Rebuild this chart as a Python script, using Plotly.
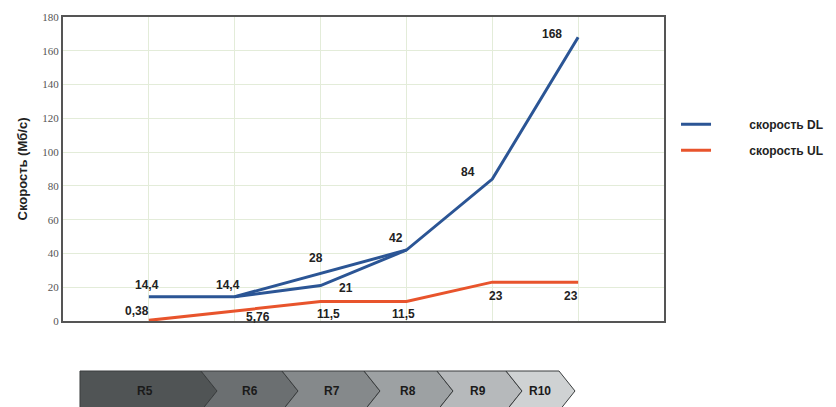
import plotly.graph_objects as go

# ---------------- data ----------------
stages = ["R5", "R6", "R7", "R8", "R9", "R10"]
dl_speed = [14.4, 14.4, 21, 42, 84, 168]
dl_alt_stages = ["R6", "R7", "R8"]
dl_alt_speed = [14.4, 28, 42]
ul_speed = [0.38, 5.76, 11.5, 11.5, 23, 23]
y_ticks = [0, 20, 40, 60, 80, 100, 120, 140, 160, 180]

# ---------------- styling ----------------
W, H = 836, 407
L, R, T, B = 63, 664, 17, 321
DL_COLOR = "#2b5595"
UL_COLOR = "#e8542c"
LABEL_FONT = dict(family="Liberation Sans, Arial", size=12, color="#222222")
PAD = "&nbsp;" * 10

idx = {s: i for i, s in enumerate(stages)}

fig = go.Figure()
fig.add_trace(go.Scatter(
    x=[idx[s] for s in stages], y=dl_speed, mode="lines", name="<b>" + PAD + "скорость DL</b>",
    line=dict(color=DL_COLOR, width=3), legendgroup="dl"))
fig.add_trace(go.Scatter(
    x=[idx[s] for s in dl_alt_stages], y=dl_alt_speed, mode="lines",
    line=dict(color=DL_COLOR, width=3), legendgroup="dl", showlegend=False))
fig.add_trace(go.Scatter(
    x=[idx[s] for s in stages], y=ul_speed, mode="lines", name="<b>" + PAD + "скорость UL</b>",
    line=dict(color=UL_COLOR, width=3), legendgroup="ul"))

def fmt(v):
    return str(v).replace(".", ",")

# value label offsets (px)
dl_off = [(-2, 12), (-7, 12), (25, -2), (-10, 12), (-24, 7), (-26, 3)]
dl_alt_off = [None, (-5, 16), None]
ul_off = [(-12, 9), (23, -6), (8, -12), (-3, -12), (4, -14), (-7, -14)]

ann = []
for s, v, o in zip(stages, dl_speed, dl_off):
    ann.append(dict(x=idx[s], y=v, xref="x", yref="y", text="<b>%s</b>" % fmt(v),
                    showarrow=False, xshift=o[0], yshift=o[1], font=LABEL_FONT))
for s, v, o in zip(dl_alt_stages, dl_alt_speed, dl_alt_off):
    if o:
        ann.append(dict(x=idx[s], y=v, xref="x", yref="y", text="<b>%s</b>" % fmt(v),
                        showarrow=False, xshift=o[0], yshift=o[1], font=LABEL_FONT))
for s, v, o in zip(stages, ul_speed, ul_off):
    ann.append(dict(x=idx[s], y=v, xref="x", yref="y", text="<b>%s</b>" % fmt(v),
                    showarrow=False, xshift=o[0], yshift=o[1], font=LABEL_FONT))

# ---------------- chevron stage bar ----------------
def px(xp):
    return (xp - L) / (R - L)

def py(yp):
    return (B - yp) / (B - T)

chev_left = 80
chev_tips = [217, 298, 380, 453, 522, 575]
chev_d = 16
chev_top, chev_mid, chev_bot = 371, 391, 411
chev_colors = ["#505455", "#6b6f71", "#85898b", "#9da1a3", "#b6b9bb", "#cfd2d3"]
chev_label_x = [145, 250, 332, 408, 478, 540]

shapes = []
prev_tip = None
for i, s in enumerate(stages):
    tip = chev_tips[i]
    if prev_tip is None:
        lx = chev_left
        pts = [(lx, chev_top), (tip - chev_d, chev_top), (tip, chev_mid),
               (tip - chev_d, chev_bot), (lx, chev_bot)]
    else:
        lx = prev_tip - chev_d
        pts = [(lx, chev_top), (tip - chev_d, chev_top), (tip, chev_mid),
               (tip - chev_d, chev_bot), (lx, chev_bot), (prev_tip, chev_mid)]
    path = "M " + " L ".join("%f,%f" % (px(a), py(b)) for a, b in pts) + " Z"
    shapes.append(dict(type="path", path=path, xref="paper", yref="paper",
                       fillcolor=chev_colors[i], line=dict(color="#3a3d3e", width=1),
                       layer="above"))
    ann.append(dict(x=px(chev_label_x[i]), y=py(chev_mid), xref="paper", yref="paper",
                    xanchor="center", yanchor="middle",
                    text="<b>%s</b>" % s, showarrow=False,
                    font=dict(family="Liberation Sans, Arial", size=12, color="#1a1a1a")))
    prev_tip = tip

fig.update_layout(
    width=W, height=H,
    margin=dict(l=L, r=W - R, t=T, b=H - B, pad=0, autoexpand=False),
    paper_bgcolor="white", plot_bgcolor="white",
    showlegend=True,
    legend=dict(x=1.02, y=0.695, xanchor="left", yanchor="top",
                font=dict(family="Liberation Sans, Arial", size=12, color="#222222"),
                tracegroupgap=7, traceorder="grouped",
                bgcolor="rgba(0,0,0,0)"),
    xaxis=dict(range=[-1, 6], tickmode="linear", tick0=0, dtick=1,
               showticklabels=False, showgrid=True, gridcolor="#e3ecd9", gridwidth=1,
               zeroline=False, showline=True, linecolor="#555555", linewidth=2,
               mirror=True, ticks=""),
    yaxis=dict(range=[0, 180], tickmode="array", tickvals=y_ticks,
               ticktext=[str(t) for t in y_ticks],
               tickfont=dict(family="Liberation Serif, Times New Roman", size=11, color="#555555"),
               showgrid=True, gridcolor="#e3ecd9", gridwidth=1,
               zeroline=False, showline=True, linecolor="#555555", linewidth=2,
               mirror=True, ticks="", ticklen=0,
               title=dict(text="<b>Скорость (Мб/с)</b>", standoff=12,
                          font=dict(family="Liberation Sans, Arial", size=13, color="#222222"))),
    annotations=ann,
    shapes=shapes,
)

fig.write_html("out.html")
